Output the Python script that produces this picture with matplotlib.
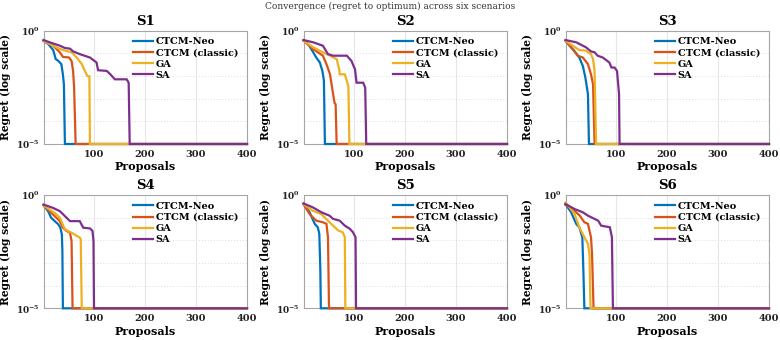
import matplotlib
matplotlib.use("Agg")
import matplotlib.pyplot as plt
from matplotlib.ticker import FixedLocator, NullFormatter, FixedFormatter

methods = ["CTCM-Neo", "CTCM (classic)", "GA", "SA"]
colors = ["#0072BD", "#D95319", "#EDB120", "#7E2F8E"]
scenarios = ["S1", "S2", "S3", "S4", "S5", "S6"]
x_max = 400
floor_log = -5

# proposals (x) and log10(regret) (y) breakpoints per scenario and method
s1_neo_x = [1, 10, 20, 25, 30, 36, 39, 41, 43]
s1_neo_y = [-0.45, -0.59, -0.86, -1.26, -1.34, -1.48, -1.93, -2.37, -5]
s1_cls_x = [1, 20, 33, 39, 51, 56, 59, 61, 64]
s1_cls_y = [-0.45, -0.67, -0.96, -1.16, -1.19, -1.34, -1.78, -2.5, -5]
s1_ga_x = [1, 13, 26, 39, 56, 66, 76, 82, 87, 91, 92]
s1_ga_y = [-0.45, -0.59, -0.74, -0.86, -0.96, -1.19, -1.48, -1.78, -2.0, -2.02, -5]
s1_sa_x = [1, 13, 33, 43, 53, 59, 72, 92, 105, 108, 125, 132, 141, 164, 168, 170]
s1_sa_y = [-0.42, -0.52, -0.67, -0.77, -0.8, -0.92, -1.04, -1.19, -1.41, -1.75, -1.78, -1.93, -2.15, -2.15, -2.3, -5]

s2_neo_x = [1, 10, 20, 26, 33, 38, 41, 43]
s2_neo_y = [-0.43, -0.59, -0.96, -1.19, -1.41, -1.78, -2.2, -5]
s2_cls_x = [1, 20, 39, 46, 53, 59, 62, 64, 66]
s2_cls_y = [-0.45, -0.82, -1.11, -1.48, -1.93, -2.8, -3.2, -3.25, -5]
s2_ga_x = [1, 20, 39, 53, 66, 71, 72, 82, 89, 91]
s2_ga_y = [-0.45, -0.74, -0.96, -1.11, -1.26, -1.7, -1.93, -1.93, -2.45, -5]
s2_sa_x = [1, 20, 39, 49, 59, 86, 95, 102, 105, 118, 122, 124]
s2_sa_y = [-0.42, -0.52, -0.67, -1.04, -1.11, -1.11, -1.34, -1.71, -2.3, -2.3, -2.52, -5]

s3_neo_x = [1, 9, 18, 28, 35, 40, 45, 47]
s3_neo_y = [-0.45, -0.67, -0.89, -1.19, -1.56, -2.08, -2.8, -5]
s3_cls_x = [1, 15, 25, 35, 45, 51, 55, 58]
s3_cls_y = [-0.45, -0.82, -1.11, -1.19, -1.48, -1.93, -2.37, -5]
s3_ga_x = [1, 15, 28, 41, 51, 55, 58, 61]
s3_ga_y = [-0.45, -0.67, -0.86, -0.89, -1.04, -1.26, -1.78, -5]
s3_sa_x = [1, 22, 41, 51, 58, 64, 74, 87, 91, 97, 102, 106, 107]
s3_sa_y = [-0.42, -0.52, -0.74, -0.92, -0.96, -1.11, -1.19, -1.41, -1.63, -1.63, -1.78, -2.8, -5]

s4_neo_x = [1, 10, 16, 23, 30, 34, 37, 38, 39]
s4_neo_y = [-0.46, -0.72, -1.01, -1.16, -1.30, -1.45, -1.74, -2.46, -5]
s4_cls_x = [1, 13, 23, 33, 39, 46, 53, 56, 58]
s4_cls_y = [-0.46, -0.72, -0.94, -1.16, -1.45, -1.59, -1.67, -2.03, -5]
s4_ga_x = [1, 13, 23, 33, 43, 49, 56, 66, 72, 74, 76]
s4_ga_y = [-0.46, -0.65, -0.8, -1.01, -1.52, -1.59, -1.67, -1.81, -1.88, -1.96, -5]
s4_sa_x = [1, 20, 33, 43, 53, 72, 79, 92, 97, 99, 100]
s4_sa_y = [-0.43, -0.58, -0.72, -0.94, -1.16, -1.16, -1.45, -1.48, -1.59, -2.03, -5]

s5_neo_x = [1, 13, 23, 29, 32, 34, 35]
s5_neo_y = [-0.41, -0.77, -1.28, -1.43, -1.72, -3.3, -5]
s5_cls_x = [1, 13, 26, 39, 46, 49, 51]
s5_cls_y = [-0.41, -0.85, -1.14, -1.21, -1.28, -1.87, -5]
s5_ga_x = [1, 19, 36, 49, 59, 69, 78, 82, 83]
s5_ga_y = [-0.41, -0.7, -0.85, -1.14, -1.36, -1.57, -1.65, -1.87, -5]
s5_sa_x = [1, 19, 36, 52, 59, 72, 82, 92, 98, 103, 104]
s5_sa_y = [-0.38, -0.55, -0.77, -0.92, -1.06, -1.14, -1.36, -1.5, -1.65, -1.87, -5]

s6_neo_x = [1, 12, 22, 28, 34, 36, 38]
s6_neo_y = [-0.41, -0.77, -1.28, -1.43, -1.87, -3.3, -5]
s6_cls_x = [1, 15, 29, 38, 45, 51, 53, 56]
s6_cls_y = [-0.44, -0.63, -0.92, -1.21, -1.28, -1.87, -2.6, -5]
s6_ga_x = [1, 9, 19, 28, 38, 45, 48, 50]
s6_ga_y = [-0.34, -0.55, -0.85, -1.43, -1.87, -2.16, -2.6, -5]
s6_sa_x = [1, 19, 35, 45, 65, 71, 88, 92, 94]
s6_sa_y = [-0.41, -0.63, -0.77, -0.92, -1.14, -1.36, -1.43, -1.87, -5]

data = [
    [(s1_neo_x, s1_neo_y), (s1_cls_x, s1_cls_y), (s1_ga_x, s1_ga_y), (s1_sa_x, s1_sa_y)],
    [(s2_neo_x, s2_neo_y), (s2_cls_x, s2_cls_y), (s2_ga_x, s2_ga_y), (s2_sa_x, s2_sa_y)],
    [(s3_neo_x, s3_neo_y), (s3_cls_x, s3_cls_y), (s3_ga_x, s3_ga_y), (s3_sa_x, s3_sa_y)],
    [(s4_neo_x, s4_neo_y), (s4_cls_x, s4_cls_y), (s4_ga_x, s4_ga_y), (s4_sa_x, s4_sa_y)],
    [(s5_neo_x, s5_neo_y), (s5_cls_x, s5_cls_y), (s5_ga_x, s5_ga_y), (s5_sa_x, s5_sa_y)],
    [(s6_neo_x, s6_neo_y), (s6_cls_x, s6_cls_y), (s6_ga_x, s6_ga_y), (s6_sa_x, s6_sa_y)],
]

plt.rcParams["font.family"] = ["DejaVu Serif"]
plt.rcParams["font.weight"] = "bold"
plt.rcParams["mathtext.fontset"] = "dejavuserif"

fig = plt.figure(figsize=(7.8, 3.4), dpi=100)
lefts = [43.5 / 780, 303.5 / 780, 565.5 / 780]
bottoms = [1 - 144 / 340, 1 - 308.3 / 340]
w = 203.5 / 780
h = 113.5 / 340
edge = "#a6a6a6"

for i, name in enumerate(scenarios):
    r, c = divmod(i, 3)
    ax = fig.add_axes([lefts[c], bottoms[r], w, h])
    ax.set_yscale("log")
    for (xs, ys), col, lab in zip(data[i], colors, methods):
        px = list(xs) + [x_max]
        py = [10 ** v for v in ys] + [10 ** floor_log]
        ax.plot(px, py, color=col, lw=1.6, label=lab, clip_on=False, zorder=3,
                solid_joinstyle="miter")
    ax.set_xlim(1, 400)
    ax.set_ylim(1e-5, 1)
    ax.xaxis.set_major_locator(FixedLocator([100, 200, 300, 400]))
    ax.xaxis.set_minor_locator(FixedLocator([]))
    ax.yaxis.set_major_locator(FixedLocator([1e-5, 1e0]))
    ax.yaxis.set_major_formatter(FixedFormatter([r"$\mathbf{10^{-5}}$", r"$\mathbf{10^{0}}$"]))
    ax.yaxis.set_minor_locator(FixedLocator([1e-4, 1e-3, 1e-2, 1e-1]))
    ax.yaxis.set_minor_formatter(NullFormatter())
    ax.grid(True, axis="x", which="major", color="#e6e6e6", lw=0.8)
    ax.grid(True, axis="y", which="minor", color="#dcdcdc", lw=0.7, ls=(0, (1, 2)))
    ax.tick_params(axis="both", which="both", length=0, colors="#222222")
    ax.tick_params(axis="x", labelsize=7, pad=4)
    ax.tick_params(axis="y", labelsize=6.5, pad=3)
    for lbl in ax.get_xticklabels():
        lbl.set_fontweight("bold")
    for s in ax.spines.values():
        s.set_color(edge)
        s.set_linewidth(0.8)
    ax.set_title(name, fontsize=9.5, fontweight="bold", pad=4)
    ax.set_xlabel("Proposals", fontsize=8, fontweight="bold", labelpad=2)
    ax.set_ylabel("Regret (log scale)", fontsize=7.7, fontweight="bold", labelpad=3)
    leg = ax.legend(loc="upper right", frameon=False, fontsize=7, handlelength=2.1,
                    handletextpad=0.25, labelspacing=0.22, borderaxespad=0.2,
                    bbox_to_anchor=(0.985, 0.99))
    for t in leg.get_texts():
        t.set_fontweight("bold")

fig.suptitle("Convergence (regret to optimum) across six scenarios", fontsize=6.5,
             fontweight="normal", y=0.995, color="#333333")
fig.savefig("out.png", dpi=100)
